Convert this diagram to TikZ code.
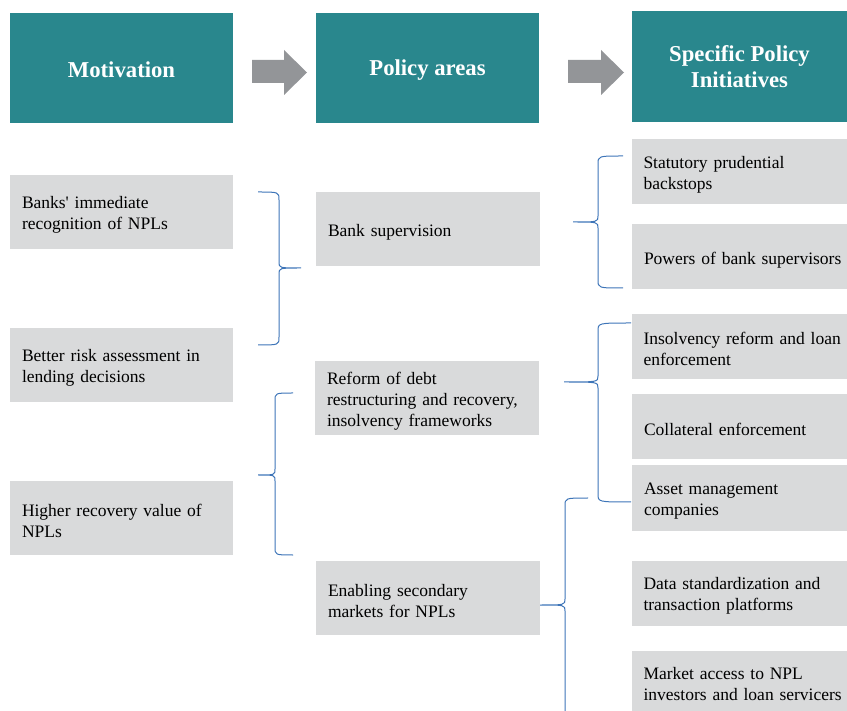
\documentclass[tikz,border=0pt]{standalone}
\usepackage{fontspec}
\setmainfont{Liberation Serif}
\definecolor{headteal}{HTML}{29878D}
\definecolor{boxgray}{HTML}{D9DADB}
\definecolor{arrowgray}{HTML}{939598}
\definecolor{braceblue}{HTML}{3E75B8}
\hyphenpenalty=10000
\hbadness=10000 \hfuzz=20pt
\begin{document}
\begin{tikzpicture}[x=1pt,y=-1pt]
\tikzstyle{head}=[fill=headteal,text=white,font=\fontsize{22.7}{26}\selectfont\bfseries,align=center,minimum width=223pt,minimum height=110pt,inner sep=0pt,execute at begin node={\rule{0pt}{20pt}}]
\tikzstyle{box}=[fill=boxgray,font=\fontsize{17.5}{21}\selectfont,align=left,inner xsep=12pt,inner ysep=0pt,minimum height=74pt,execute at begin node={\rule{0pt}{18pt}}]
\tikzstyle{rbox}=[box,minimum height=65pt,text width=191pt]
\tikzstyle{brace}=[draw=braceblue,line width=1pt]
\useasboundingbox (0,0) rectangle (847,711);

% headings
\node[head] at (121.5,68) (mot) {Motivation};
\node[head] at (427.5,68) (pol) {Policy areas};
\node[head,minimum width=215pt,minimum height=111pt] at (739.5,66.5) (spi) {Specific Policy\\Initiatives};

\fill[arrowgray] (252,60) -- (284,60) -- (284,50) -- (307,72.5) -- (284,95) -- (284,83) -- (252,83) -- cycle;
\fill[arrowgray] (568,60) -- (601,60) -- (601,50) -- (624,72.5) -- (601,95) -- (601,83) -- (568,83) -- cycle;

% motivation
\node[box,text width=199pt] at (121.5,212) (m1) {Banks\textquotesingle\ immediate\\recognition of NPLs};
\node[box,text width=199pt] at (121.5,365) (m2) {Better risk assessment in\\lending decisions};
\node[box,text width=199pt] at (121.5,518) (m3) {Higher recovery value of\\NPLs};

% policy areas
\node[box,text width=200pt] at (428,229) (a1) {Bank supervision};
\node[box,text width=200pt] at (427,398) (a2) {Reform of debt\\restructuring~and~recovery,\\insolvency frameworks};
\node[box,text width=200pt] at (428,598) (a3) {Enabling secondary\\markets for NPLs};

% initiatives
\node[rbox] at (739,171.5) (s1) {Statutory prudential\\backstops};
\node[rbox] at (739.5,257) (s2) {Powers~of~bank~supervisors};
\node[rbox] at (739,346.5) (s3) {Insolvency~reform~and~loan\\enforcement};
\node[rbox] at (739.5,427) (s4) {Collateral enforcement};
\node[rbox] at (739.5,498) (s5) {Asset management\\companies};
\node[rbox] at (739,593) (s6) {Data~standardization~and\\transaction platforms};
\node[rbox,minimum height=60pt] at (739,681) (s7) {Market access to NPL\\investors~and~loan~servicers};

% braces
\draw[brace] (258,192) .. controls (279,192) .. (279,200) -- (279,262) .. controls (279,268) .. (301,268)
  .. controls (279,268) .. (279,274) -- (279,337) .. controls (279,345) .. (258,345);
\draw[brace] (293,393) .. controls (275,393) .. (275,401) -- (275,469) .. controls (275,475) .. (258,475)
  .. controls (275,475) .. (275,481) -- (275,547) .. controls (275,555) .. (293,555);
\draw[brace] (623,156) .. controls (598,156) .. (598,164) -- (598,216) .. controls (598,222) .. (573,222)
  .. controls (598,222) .. (598,228) -- (598,280) .. controls (598,288) .. (623,288);
\draw[brace] (631,323) .. controls (598,323) .. (598,331) -- (598,376) .. controls (598,382) .. (564,382)
  .. controls (598,382) .. (598,388) -- (598,494) .. controls (598,502) .. (631,502);
\draw[brace] (588,498) .. controls (565,498) .. (565,506) -- (565,599) .. controls (565,605) .. (540,605)
  .. controls (565,605) .. (565,611) -- (565,711);
\end{tikzpicture}
\end{document}
